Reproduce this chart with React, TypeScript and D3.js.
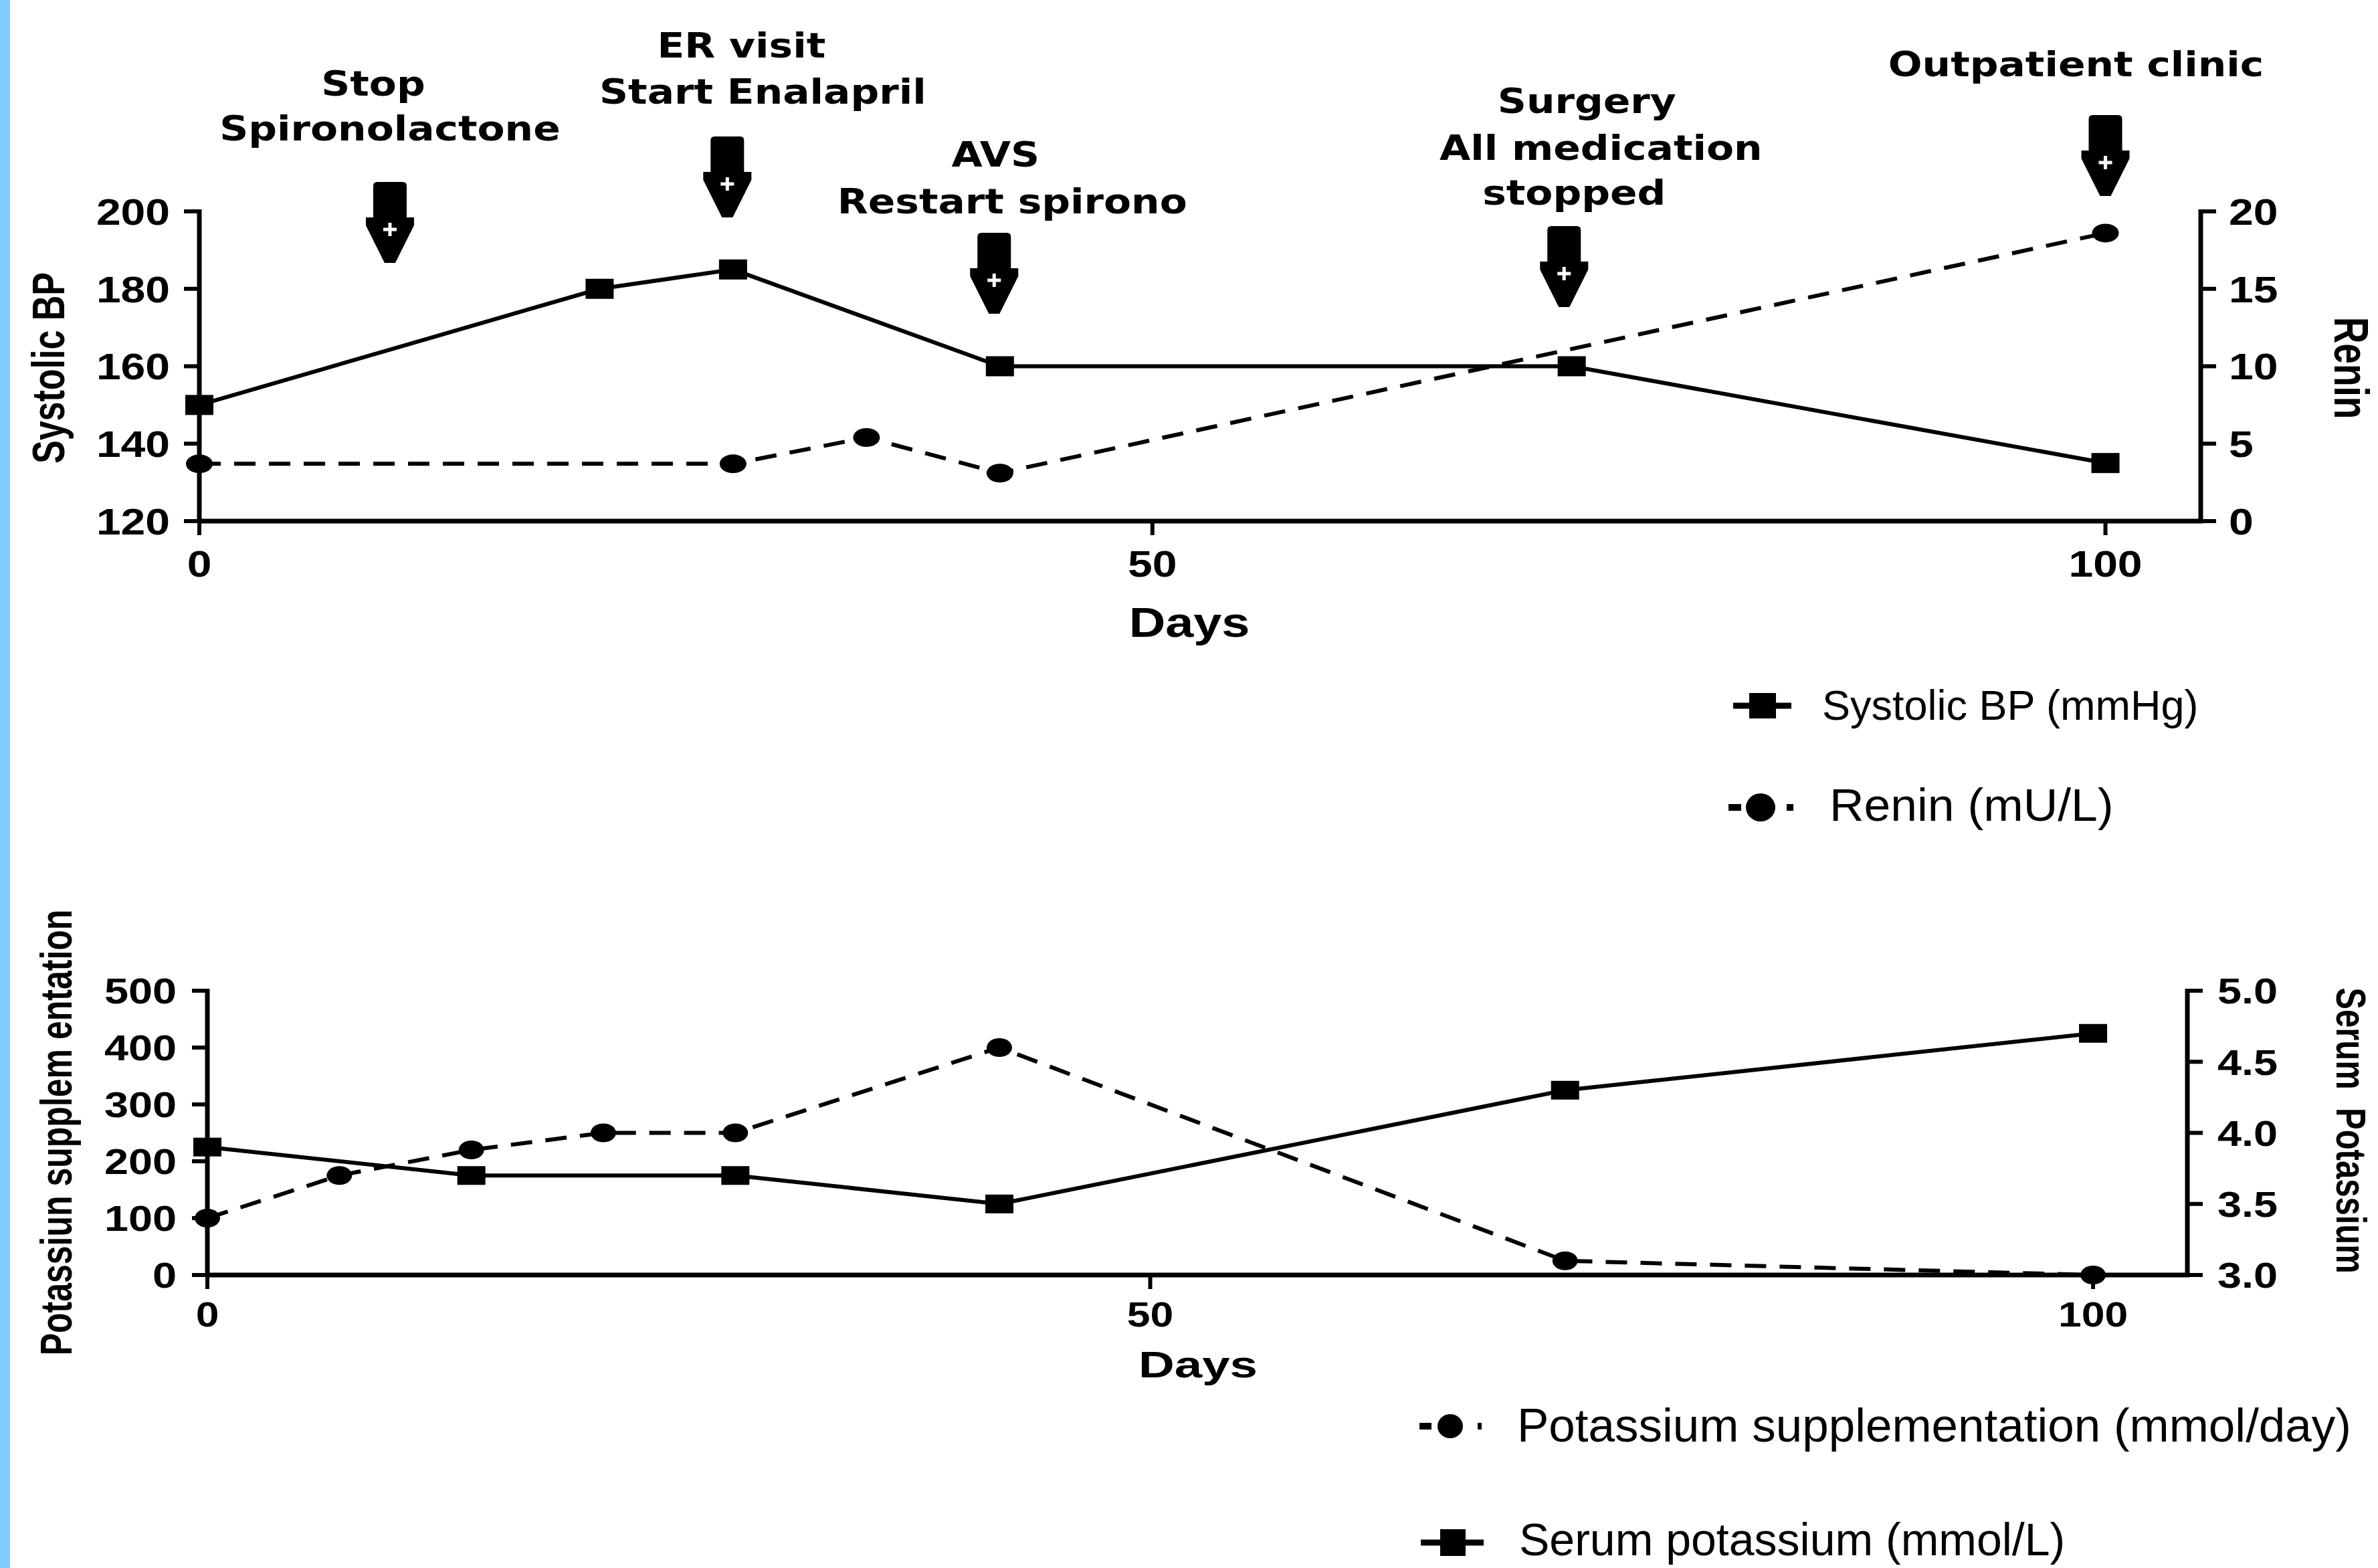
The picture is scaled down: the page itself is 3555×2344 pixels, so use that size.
import { useEffect } from "react"
import * as d3 from "d3"

const W = 3555
const H = 2344

// top panel: systolic BP (left axis) and renin (right axis)
const bpDays = [0, 21, 28, 42, 72, 100]
const bpValues = [150, 180, 185, 160, 160, 135]
const reninDays = [0, 28, 35, 42, 100]
const reninValues = [3.7, 3.7, 5.4, 3.1, 18.6]
const bpTicks = [120, 140, 160, 180, 200]
const reninTicks = [0, 5, 10, 15, 20]
const dayTicks = [0, 50, 100]

// bottom panel: potassium supplementation (left) and serum potassium (right)
const kSuppDays = [0, 7, 14, 21, 28, 42, 72, 100]
const kSuppValues = [100, 175, 220, 250, 250, 400, 25, 0]
const serumKDays = [0, 14, 28, 42, 72, 100]
const serumKValues = [3.9, 3.7, 3.7, 3.5, 4.3, 4.7]
const kSuppTicks = [0, 100, 200, 300, 400, 500]
const serumKTicks = [3.0, 3.5, 4.0, 4.5, 5.0]

// clinical events marked with arrows
const eventDays = [10, 27.7, 41.7, 71.6, 100]
const eventLabels = [
  ["Stop", "Spironolactone"],
  ["ER visit", "Start Enalapril"],
  ["AVS", "Restart spirono"],
  ["Surgery", "All medication", "stopped"],
  ["Outpatient clinic"],
]

// layout of the event annotations (arrow tip y, text line offsets)
const eventLayout = [
  { tip: 393, lines: [[-25, 143], [0, 210]] },
  { tip: 325, lines: [[21, 86], [53, 155]] },
  { tip: 469, lines: [[2, 249], [27, 319]] },
  { tip: 459, lines: [[34, 169], [55, 239], [15, 306]] },
  { tip: 293, lines: [[-44, 114]] },
]

const AX = "Liberation Sans, Arial, Helvetica, sans-serif"
const ANN = "DejaVu Sans, Verdana, sans-serif"

function Txt({ x, y, sx = 1.2, rot = 0, anchor = "middle", size, weight = "bold", family = AX, dy = "0", children }: any) {
  return (
    <text
      transform={`translate(${x},${y}) scale(${sx},1)${rot ? ` rotate(${rot})` : ""}`}
      textAnchor={anchor}
      fontSize={size}
      fontWeight={weight}
      fontFamily={family}
      dy={dy}
      fill="#000"
      style={{ whiteSpace: "pre" }}
    >
      {children}
    </text>
  )
}

const arrowPath =
  "M -25,-68 L -25,-115 Q -25,-121 -19,-121 L 19,-121 Q 25,-121 25,-115 L 25,-68 L 36,-68 L 36,-56 L 8,0 L -8,0 L -36,-56 L -36,-68 Z"

function Square({ x, y, w = 42, h = 30 }: any) {
  return <rect x={x - w / 2} y={y - h / 2} width={w} height={h} fill="#000" />
}
function Dot({ x, y, rx = 20, ry = 14 }: any) {
  return <ellipse cx={x} cy={y} rx={rx} ry={ry} fill="#000" />
}

export default function App() {
  useEffect(() => {
    document.body.style.margin = "0"
  }, [])

  // top scales
  const xTop = d3.scaleLinear().domain([0, 105]).range([298, 3290])
  const yBp = d3.scaleLinear().domain([120, 200]).range([779, 316])
  const yRenin = d3.scaleLinear().domain([0, 20]).range([779, 316])

  // bottom scales
  const xBot = d3.scaleLinear().domain([0, 105]).range([310, 3270])
  const yK = d3.scaleLinear().domain([0, 500]).range([1906, 1481])
  const ySerum = d3.scaleLinear().domain([3, 5]).range([1906, 1481])

  const mkLine = (xs: number[], ys: number[], sx: any, sy: any) =>
    d3.line<number>().x((_, i) => sx(xs[i])).y((d) => sy(d))(ys) || ""

  const axisW = 7
  const lineW = 6
  const dash = "32 20"

  const topL = xTop(0)
  const topR = xTop(105)
  const botL = xBot(0)
  const botR = xBot(105)

  return (
    <svg width={W} height={H} style={{ display: "block", background: "#fff" }}>
      <rect x={0} y={0} width={15} height={H} fill="#80CCFF" />

      {/* ---------- top panel ---------- */}
      <g stroke="#000" strokeWidth={axisW} fill="none">
        <line x1={topL} x2={topL} y1={yBp(200) - 3} y2={yBp(120)} />
        <line x1={topL - 3} x2={topR + 3} y1={yBp(120)} y2={yBp(120)} />
        <line x1={topR} x2={topR} y1={yRenin(20) - 3} y2={yRenin(0)} />
        {bpTicks.map((t) => (
          <line key={"bt" + t} x1={topL - 23} x2={topL} y1={yBp(t)} y2={yBp(t)} strokeWidth={6} />
        ))}
        {reninTicks.map((t) => (
          <line key={"rt" + t} x1={topR} x2={topR + 23} y1={yRenin(t)} y2={yRenin(t)} strokeWidth={6} />
        ))}
        {dayTicks.map((t) => (
          <line key={"dt" + t} x1={xTop(t)} x2={xTop(t)} y1={yBp(120)} y2={yBp(120) + 21} strokeWidth={6} />
        ))}
      </g>
      {bpTicks.map((t) => (
        <Txt key={"bl" + t} x={254} y={yBp(t)} dy="0.36em" anchor="end" size={55}>
          {t}
        </Txt>
      ))}
      {reninTicks.map((t) => (
        <Txt key={"rl" + t} x={3332} y={yRenin(t)} dy="0.36em" anchor="start" size={55}>
          {t}
        </Txt>
      ))}
      {dayTicks.map((t) => (
        <Txt key={"dl" + t} x={xTop(t)} y={842} dy="0.36em" size={55}>
          {t}
        </Txt>
      ))}
      <Txt x={1778} y={952} size={63}>
        Days
      </Txt>
      <Txt x={96} y={550} sx={1.3} rot={-90} size={52}>
        Systolic BP
      </Txt>
      <Txt x={3490} y={550} sx={1.3} rot={90} size={55}>
        Renin
      </Txt>

      <path d={mkLine(reninDays, reninValues, xTop, yRenin)} stroke="#000" strokeWidth={lineW} strokeDasharray={dash} fill="none" />
      <path d={mkLine(bpDays, bpValues, xTop, yBp)} stroke="#000" strokeWidth={lineW} fill="none" />
      {reninDays.map((d, i) => (
        <Dot key={"rd" + i} x={xTop(d)} y={yRenin(reninValues[i])} />
      ))}
      {bpDays.map((d, i) => (
        <Square key={"bs" + i} x={xTop(d)} y={yBp(bpValues[i])} />
      ))}

      {/* event arrows and labels */}
      {eventDays.map((d, i) => {
        const ax = xTop(d)
        const lay = eventLayout[i]
        return (
          <g key={"ev" + i}>
            <g transform={`translate(${ax},${lay.tip})`}>
              <path d={arrowPath} fill="#000" />
              <rect x={-2.5} y={-60} width={5} height={20} fill="#fff" />
              <rect x={-10} y={-52.5} width={20} height={5} fill="#fff" />
            </g>
            {eventLabels[i].map((s, j) => (
              <Txt key={j} x={ax + lay.lines[j][0]} y={lay.lines[j][1]} sx={1.15} size={52} family={ANN}>
                {s}
              </Txt>
            ))}
          </g>
        )
      })}

      {/* top legend */}
      <line x1={2591} x2={2678} y1={1055} y2={1055} stroke="#000" strokeWidth={9} />
      <Square x={2635} y={1055} w={40} h={38} />
      <Txt x={2724} y={1076} sx={1} anchor="start" size={63} weight="normal">
        Systolic BP (mmHg)
      </Txt>
      <line x1={2584} x2={2603} y1={1207} y2={1207} stroke="#000" strokeWidth={10} />
      <line x1={2671} x2={2681} y1={1207} y2={1207} stroke="#000" strokeWidth={10} />
      <Dot x={2632} y={1207} rx={22} ry={21} />
      <Txt x={2735} y={1227} sx={1.05} anchor="start" size={68} weight="normal">
        Renin (mU/L)
      </Txt>

      {/* ---------- bottom panel ---------- */}
      <g stroke="#000" strokeWidth={axisW} fill="none">
        <line x1={botL} x2={botL} y1={yK(500) - 3} y2={yK(0)} />
        <line x1={botL - 3} x2={botR + 3} y1={yK(0)} y2={yK(0)} />
        <line x1={botR} x2={botR} y1={ySerum(5) - 3} y2={ySerum(3)} />
        {kSuppTicks.map((t) => (
          <line key={"kt" + t} x1={botL - 23} x2={botL} y1={yK(t)} y2={yK(t)} strokeWidth={6} />
        ))}
        {serumKTicks.map((t) => (
          <line key={"st" + t} x1={botR} x2={botR + 23} y1={ySerum(t)} y2={ySerum(t)} strokeWidth={6} />
        ))}
        {dayTicks.map((t) => (
          <line key={"bd" + t} x1={xBot(t)} x2={xBot(t)} y1={yK(0)} y2={yK(0) + 21} strokeWidth={6} />
        ))}
      </g>
      {kSuppTicks.map((t) => (
        <Txt key={"kl" + t} x={264} y={yK(t)} dy="0.36em" anchor="end" size={54}>
          {t}
        </Txt>
      ))}
      {serumKTicks.map((t) => (
        <Txt key={"sl" + t} x={3315} y={ySerum(t)} dy="0.36em" anchor="start" size={54}>
          {d3.format(".1f")(t)}
        </Txt>
      ))}
      {dayTicks.map((t) => (
        <Txt key={"bdl" + t} x={xBot(t)} y={1964} dy="0.36em" size={52}>
          {t}
        </Txt>
      ))}
      <Txt x={1791} y={2059} sx={1.33} size={56}>
        Days
      </Txt>
      <Txt x={107} y={1693} sx={1.33} rot={-90} size={50}>
        Potassiun supplem entation
      </Txt>
      <Txt x={3493} y={1690} sx={1.3} rot={90} size={49}>
        {"Serum  Potassium"}
      </Txt>

      <path d={mkLine(kSuppDays, kSuppValues, xBot, yK)} stroke="#000" strokeWidth={lineW} strokeDasharray={dash} fill="none" />
      <path d={mkLine(serumKDays, serumKValues, xBot, ySerum)} stroke="#000" strokeWidth={lineW} fill="none" />
      {kSuppDays.map((d, i) => (
        <Dot key={"kd" + i} x={xBot(d)} y={yK(kSuppValues[i])} rx={19} ry={14} />
      ))}
      {serumKDays.map((d, i) => (
        <Square key={"ss" + i} x={xBot(d)} y={ySerum(serumKValues[i])} w={42} h={28} />
      ))}

      {/* bottom legend */}
      <line x1={2122} x2={2140} y1={2132} y2={2132} stroke="#000" strokeWidth={10} />
      <line x1={2209} x2={2215} y1={2132} y2={2132} stroke="#000" strokeWidth={10} />
      <Dot x={2168} y={2132} rx={19} ry={18} />
      <Txt x={2268} y={2155} sx={1} anchor="start" size={71} weight="normal">
        Potassium supplementation (mmol/day)
      </Txt>
      <line x1={2124} x2={2218} y1={2306} y2={2306} stroke="#000" strokeWidth={9} />
      <Square x={2172} y={2306} w={38} h={40} />
      <Txt x={2271} y={2325} sx={1} anchor="start" size={68} weight="normal">
        Serum potassium (mmol/L)
      </Txt>
    </svg>
  )
}
